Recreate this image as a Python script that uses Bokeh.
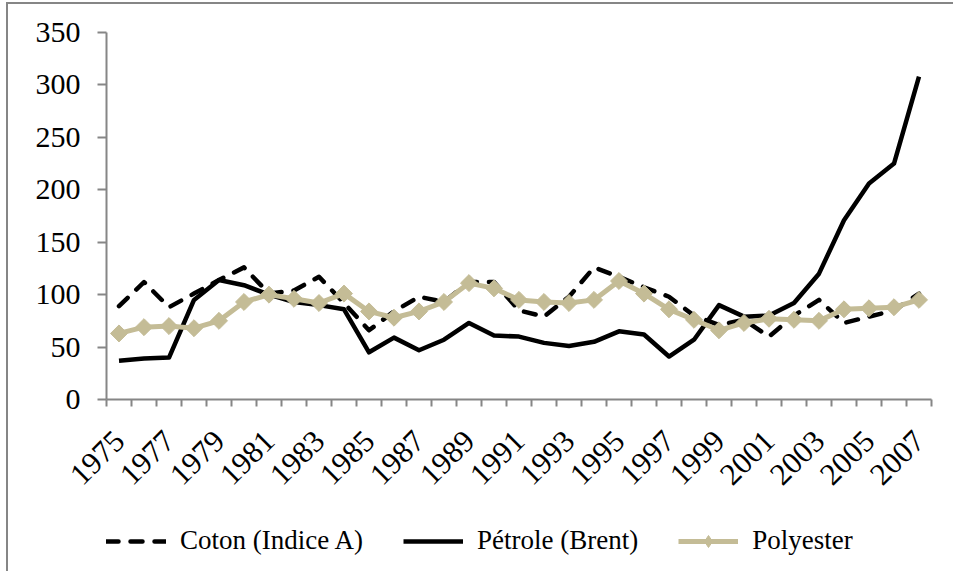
import math
from bokeh.plotting import figure
from bokeh.layouts import column
from bokeh.models import Range1d, FixedTicker, Legend, LegendItem, ColumnDataSource
from bokeh.embed import file_html
from bokeh.resources import INLINE

years = list(range(1975, 2008))
coton = [89, 112, 88, 101, 114, 126, 101, 104, 117, 92,
         66, 84, 98, 93, 112, 112, 85, 79, 98, 126,
         117, 107, 98, 80, 71, 76, 60, 80, 95, 73,
         79, 85, 101]
petrole = [37, 39, 40, 95, 114, 109, 100, 93, 90, 86,
           45, 59, 47, 57, 73, 61, 60, 54, 51, 55,
           65, 62, 41, 57, 90, 79, 80, 92, 120, 171,
           206, 225, 308]
polyester = [63, 69, 70, 68, 75, 93, 100, 96, 92, 101,
             84, 78, 84, 93, 111, 106, 95, 93, 92, 95,
             113, 101, 86, 76, 66, 73, 77, 76, 75, 86,
             87, 88, 95]
y_ticks = [0, 50, 100, 150, 200, 250, 300, 350]
x_label_years = years[::2]
series_names = ["Coton (Indice A)", "Pétrole (Brent)", "Polyester"]

FONT = "Liberation Serif"
GRAY = "#868686"
TAN = "#C4BC96"
W = 945

src = ColumnDataSource(dict(x=years, coton=coton, petrole=petrole, polyester=polyester))

p = figure(width=W, height=510, output_backend="svg", toolbar_location=None,
           x_range=Range1d(years[0] - 0.5, years[-1] + 0.5),
           y_range=Range1d(0, 350),
           min_border_left=98, min_border_right=22,
           min_border_top=28, min_border_bottom=115)
p.outline_line_color = None
p.xgrid.visible = False
p.ygrid.visible = False

coton_style = dict(line_color="black", line_width=4.5, line_dash="12 12",
                   line_cap="round", line_join="round")
pet_style = dict(line_color="black", line_width=4.5, line_join="round")
poly_style = dict(line_color=TAN, line_width=5, line_join="round")
mark_style = dict(marker="square", angle=math.pi / 4, size=12,
                  fill_color=TAN, line_color=TAN)

p.line("x", "coton", source=src, **coton_style)
p.line("x", "petrole", source=src, **pet_style)
p.line("x", "polyester", source=src, **poly_style)
p.scatter("x", "polyester", source=src, **mark_style)

# x axis
xa = p.xaxis[0]
xa.ticker = FixedTicker(ticks=x_label_years,
                        minor_ticks=[y - 0.5 for y in years] + [years[-1] + 0.5])
xa.major_label_overrides = {y: str(y) for y in x_label_years}
xa.major_tick_out = 0
xa.major_tick_in = 0
xa.minor_tick_out = 7
xa.minor_tick_in = 0
xa.minor_tick_line_color = GRAY
xa.minor_tick_line_width = 2
xa.axis_line_color = GRAY
xa.axis_line_width = 2
xa.major_label_orientation = math.pi / 4
xa.major_label_standoff = 29
xa.major_label_text_font = FONT
xa.major_label_text_font_size = "31px"
xa.major_label_text_color = "black"

ya = p.yaxis[0]
ya.ticker = FixedTicker(ticks=y_ticks)
ya.minor_tick_line_color = None
ya.major_tick_out = 9
ya.major_tick_in = 0
ya.major_tick_line_color = GRAY
ya.major_tick_line_width = 2
ya.axis_line_color = GRAY
ya.axis_line_width = 2
ya.major_label_standoff = 17
ya.major_label_text_font = FONT
ya.major_label_text_font_size = "30px"
ya.major_label_text_color = "black"

# legend strip (its frame is aligned with the chart frame by the column layout);
# the series are drawn here too but lie outside this strip's ranges
q = figure(width=W, height=57, output_backend="svg", toolbar_location=None,
           x_range=Range1d(0, 1), y_range=Range1d(0, 1), min_border=0)
q.axis.visible = False
q.grid.visible = False
q.outline_line_color = None
l1 = q.line("x", "coton", source=src, **coton_style)
l2 = q.line("x", "petrole", source=src, **pet_style)
l3 = q.line("x", "polyester", source=src, **poly_style)
l3m = q.scatter("x", "polyester", source=src, marker="diamond", size=19,
                fill_color=TAN, line_color=TAN)

legend = Legend(items=[
    LegendItem(label=series_names[0], renderers=[l1]),
    LegendItem(label=series_names[1], renderers=[l2]),
    LegendItem(label=series_names[2], renderers=[l3, l3m]),
], orientation="horizontal", location=(0, 15))
legend.border_line_color = None
legend.background_fill_alpha = 0
legend.padding = 0
legend.margin = 0
legend.spacing = 40
legend.glyph_width = 60
legend.glyph_height = 30
legend.label_height = 30
legend.label_standoff = 14
legend.label_text_font = FONT
legend.label_text_font_size = "27px"
legend.label_text_color = "black"
q.add_layout(legend, "center")

layout = column(p, q, spacing=0)
layout.styles = {"border-left": f"2px solid {GRAY}", "border-top": f"2px solid {GRAY}",
                 "margin-left": "6px", "margin-top": "2px"}

open("out.html", "w").write(file_html(layout, INLINE))
